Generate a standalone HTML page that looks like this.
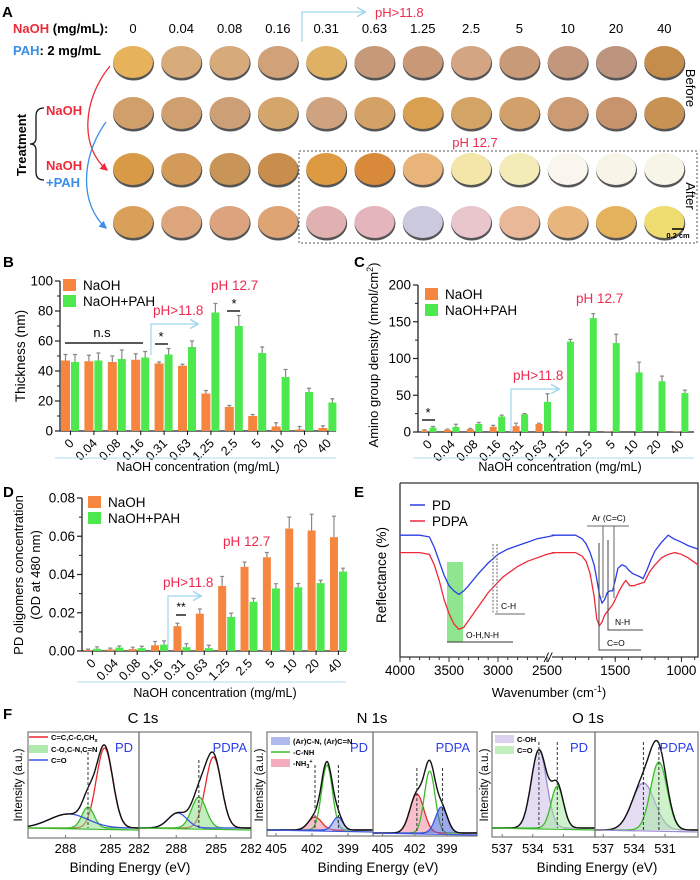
<!DOCTYPE html>
<html><head><meta charset="utf-8"><style>
html,body{margin:0;padding:0;background:#fff;}
svg{display:block;font-family:"Liberation Sans",Arial,sans-serif;}
</style></head><body>
<svg id="fig" width="700" height="880" viewBox="0 0 700 880" xmlns="http://www.w3.org/2000/svg">
<defs>
<marker id="ahR" markerWidth="6" markerHeight="6" refX="5" refY="3" orient="auto"><path d="M0,0 L6,3 L0,6 z" fill="#ee2a3a"/></marker>
<marker id="ahB" markerWidth="6" markerHeight="6" refX="5" refY="3" orient="auto"><path d="M0,0 L6,3 L0,6 z" fill="#3a8ee8"/></marker>
<marker id="ahC" markerWidth="8" markerHeight="8" refX="6" refY="4" orient="auto"><path d="M0,0 L7,4 L0,8" fill="none" stroke="#9fd6ef" stroke-width="1.2"/></marker>
</defs>
<g>
<text x="2" y="17" font-size="15" font-weight="bold">A</text>
<text x="13" y="33" font-size="13" font-weight="bold"><tspan fill="#ee2a3a">NaOH</tspan> (mg/mL):</text>
<text x="13" y="55" font-size="13" font-weight="bold"><tspan fill="#3a8ee8">PAH</tspan>: 2 mg/mL</text>
<path d="M302,42 L302,12 L364,12" fill="none" stroke="#9fd6ef" stroke-width="1.2" marker-end="url(#ahC)"/>
<text x="375" y="17" font-size="13" fill="#ee2a4f">pH&gt;11.8</text>
<text x="475" y="147" font-size="13" fill="#ee2a4f" text-anchor="middle">pH 12.7</text>
<rect x="299" y="151" width="398" height="92" fill="none" stroke="#555" stroke-dasharray="2,2"/>
<text transform="translate(26,145) rotate(-90)" font-size="13" font-weight="bold" text-anchor="middle">Treatment</text>
<path d="M44,108 Q36,108 36,116 L36,138 Q36,144 30,144 Q36,144 36,150 L36,172 Q36,180 44,180" fill="none" stroke="#111" stroke-width="1.3"/>
<text x="46" y="115" font-size="13" font-weight="bold" fill="#ee2a3a">NaOH</text>
<text x="46" y="170" font-size="13" font-weight="bold" fill="#ee2a3a">NaOH</text>
<text x="46" y="187" font-size="13" font-weight="bold" fill="#3a8ee8">+PAH</text>
<path d="M110,66 C82,100 80,148 107,170" fill="none" stroke="#ee2a3a" stroke-width="1.3" marker-end="url(#ahR)"/>
<path d="M106,122 C80,158 80,205 106,228" fill="none" stroke="#3a8ee8" stroke-width="1.3" marker-end="url(#ahB)"/>
<text transform="translate(686,88) rotate(90)" font-size="13" text-anchor="middle">Before</text>
<text transform="translate(686,196) rotate(90)" font-size="13" text-anchor="middle">After</text>
<g id="discs"></g>
<line x1="672" y1="229" x2="684" y2="229" stroke="#000" stroke-width="1.5"/>
<text x="678" y="238" font-size="7.5" font-weight="bold" text-anchor="middle">0.2 cm</text>
</g>
<g id="charts"></g>
</svg>
<script>
const svg=document.getElementById('fig');
const NS='http://www.w3.org/2000/svg';
function mk(tag,attrs,parent){const e=document.createElementNS(NS,tag);for(const k in attrs)e.setAttribute(k,attrs[k]);(parent||svg).appendChild(e);return e;}
function tx(str,attrs,parent){const e=mk('text',attrs,parent);e.textContent=str;return e;}

/* ---------- Panel A data ---------- */
const concLabels=['0','0.04','0.08','0.16','0.31','0.63','1.25','2.5','5','10','20','40'];
const discRow1=['#e7b35a','#d8ab7a','#d7aa7c','#d1a27a','#dfb165','#c69a78','#c99877','#d3a583','#c99a77','#c3977c','#bd947e','#c48d4c'];
const discRow2=['#d1a06a','#cf9f6f','#cd9f77','#d5a66c','#cfa37f','#d4a266','#d8a050','#d4a466','#d2a06a','#cc9a73','#c7946e','#c79254'];
const discRow3=['#d99a48','#d39a5a','#c99457','#c98d4e','#de9a40','#d9893a','#e8b47a','#f3e6a8','#f4ecb8','#faf6ee','#f8f4e8','#f7f4e8'];
const discRow4=['#d8a058','#dca57c','#dba47e','#dea474','#e1b0b0','#e4b5bd','#cbc9de','#e8c6cc','#e8b898','#e8b57c','#e4b25c','#eedc70'];
const discRowsY=[62,113,169,222];
const discs=document.getElementById('discs');
[discRow1,discRow2,discRow3,discRow4].forEach((row,ri)=>{
  row.forEach((c,i)=>{
    const cx=133+i*48.3, cy=discRowsY[ri];
    const sh=mk('ellipse',{cx:cx+0.5,cy:cy+1.5,rx:20.5,ry:17,fill:'#555'},discs);
    
    
    const d=mk('ellipse',{cx:cx,cy:cy,rx:20,ry:16,fill:c},discs);
    
    
  });
});
concLabels.forEach((l,i)=>{
  const t=tx(l,{x:133+i*48.3,y:33,'font-size':13,'text-anchor':'middle'});
  
  
});

/* ---------- Bar chart data ---------- */
const bNaOH=[47,46.5,46,47.5,45,43.5,25,16,10,3,1,2];
const bNaOHErr=[4,4,4,4,1,1,2,1,1,2.5,2,1.5];
const bPAH=[46,47,48,49,51,56,79,70,52,36,26,19];
const bPAHErr=[5,5,6,4,4,4,6,7,4,5,2.5,2.5];
const bTicks=[0,20,40,60,80,100];

const cNaOH=[2,3,4,7,8,11,1,0,0.5,0,0,0.5];
const cNaOHErr=[1,1,1,2,4,1,0,0,0,0,0,0];
const cPAH=[6,7,11,21,24,41,123,155,121,81,69,53];
const cPAHErr=[1.5,3.5,2,2,1,11,3,6,12,14,7,4];
const cTicks=[0,50,100,150,200];

const dNaOH=[0.0005,0.0008,0.001,0.003,0.013,0.0195,0.034,0.044,0.049,0.064,0.063,0.0595];
const dNaOHErr=[0.0005,0.0007,0.001,0.002,0.0015,0.0025,0.005,0.0025,0.0025,0.006,0.0085,0.011];
const dPAH=[0.0012,0.0018,0.0015,0.0033,0.002,0.0015,0.0178,0.0257,0.0327,0.0333,0.0355,0.0415];
const dPAHErr=[0.001,0.0008,0.001,0.002,0.0018,0.0015,0.002,0.0018,0.0025,0.002,0.0015,0.0018];
const dTicks=[0,0.02,0.04,0.06,0.08];

const ORANGE='#f5853f', GREEN='#4de84d', RED='#ee2a4f';

function barChart(c){
  const g=mk('g',{});
  
  
  const yMax=c.ticks[c.ticks.length-1];
  const Y=v=>c.yBase - v/yMax*(c.yBase-c.yTop);
  const gx=i=>c.x0+i*c.step;
  const ya=mk('line',{x1:c.axL,y1:c.yBase,x2:c.axL,y2:c.yTop,stroke:'#222','stroke-width':1.3},g);
  
  
  const xa=mk('line',{x1:c.axL,y1:c.yBase,x2:c.axR,y2:c.yBase,stroke:'#222','stroke-width':1.3},g);
  
  
  c.ticks.forEach((t,k)=>{
    const y=Y(t);
    mk('line',{x1:c.axL-5,y1:y,x2:c.axL,y2:y,stroke:'#222','stroke-width':1.2},g);
    if(k<c.ticks.length-1){const ym=Y((t+c.ticks[k+1])/2);mk('line',{x1:c.axL-3,y1:ym,x2:c.axL,y2:ym,stroke:'#222','stroke-width':1},g);}
    const lab=tx(c.fmt(t),{x:c.axL-7,y:y+4.5,'font-size':13.5,'text-anchor':'end'},g);
    
    
  });
  concLabels.forEach((l,i)=>{
    const cx=gx(i)+c.ow+c.gap/2;
    mk('line',{x1:cx,y1:c.yBase,x2:cx,y2:c.yBase+4,stroke:'#222','stroke-width':1.1},g);
    const lab=tx(l,{x:cx+4,y:c.yBase+13,'font-size':12.5,'text-anchor':'end',transform:`rotate(-45 ${cx+4} ${c.yBase+13})`},g);
    
    
  });
  function bars(vals,errs,off,w,col,nm){
    vals.forEach((v,i)=>{
      const x=gx(i)+off, y=Y(v);
      const r=mk('rect',{x:x,y:y,width:w,height:Math.max(0,c.yBase-y),fill:col},g);
      
      
      if(errs[i]>0){
        const ye=Y(v+errs[i]);
        const e=mk('path',{d:`M${x+w/2},${y} L${x+w/2},${ye} M${x+w/2-2},${ye} L${x+w/2+2},${ye}`,stroke:'#888','stroke-width':1.2,fill:'none'},g);
        
        
      }
    });
  }
  bars(c.naoh,c.naohErr,0,c.ow,ORANGE,'bar-naoh');
  bars(c.pah,c.pahErr,c.ow+c.gap,c.gw,GREEN,'bar-naoh-pah');
  const l1=mk('rect',{x:c.legX,y:c.legY-7,width:13,height:12,fill:ORANGE},g);
  
  
  const t1=tx('NaOH',{x:c.legX+20,y:c.legY+4,'font-size':13.5},g);
  
  
  const l2=mk('rect',{x:c.legX,y:c.legY+9,width:13,height:12,fill:GREEN},g);
  
  
  const t2=tx('NaOH+PAH',{x:c.legX+20,y:c.legY+20,'font-size':13.5},g);
  
  
  const bl=mk('line',{x1:c.axL-5,y1:c.blueY,x2:c.axR,y2:c.blueY,stroke:'#bfe3f3','stroke-width':1.2},g);
  
  
  const xt=tx('NaOH concentration (mg/mL)',{x:c.xtX,y:c.xtY,'font-size':12.5,'text-anchor':'middle'},g);
  
  
  return {g,Y,gx};
}

tx('B',{x:3,y:267,'font-size':15,'font-weight':'bold'});
const B=barChart({name:'panel-b-thickness-chart',x0:61,step:23.4,ow:9,gap:1,gw:8,yBase:431,yTop:281,axL:60,axR:336,ticks:bTicks,fmt:t=>String(t),
  naoh:bNaOH,naohErr:bNaOHErr,pah:bPAH,pahErr:bPAHErr,legX:63,legY:286,blueY:458,xtX:198,xtY:471});
const byt=tx('Thickness (nm)',{transform:'translate(25,356) rotate(-90)','font-size':13.5,'text-anchor':'middle'});



tx('C',{x:354,y:267,'font-size':15,'font-weight':'bold'});
const C=barChart({name:'panel-c-amino-chart',x0:421,step:22.9,ow:7,gap:1.5,gw:7,yBase:432,yTop:285,axL:418,axR:694,ticks:cTicks,fmt:t=>String(t),
  naoh:cNaOH,naohErr:cNaOHErr,pah:cPAH,pahErr:cPAHErr,legX:425,legY:295,blueY:458,xtX:560,xtY:471});
const cyt=mk('text',{transform:'translate(378,355) rotate(-90)','font-size':13,'text-anchor':'middle'});
cyt.innerHTML='Amino group density (nmol/cm<tspan dy="-5" font-size="9">2</tspan><tspan dy="5">)</tspan>';



tx('D',{x:3,y:497,'font-size':15,'font-weight':'bold'});
const D=barChart({name:'panel-d-oligomer-chart',x0:84,step:22.36,ow:8,gap:1,gw:8,yBase:651,yTop:498,axL:82,axR:346,ticks:dTicks,fmt:t=>t.toFixed(2),
  naoh:dNaOH,naohErr:dNaOHErr,pah:dPAH,pahErr:dPAHErr,legX:88,legY:503,blueY:682,xtX:215,xtY:697});
const dyt=tx('PD oligomers concentration',{transform:'translate(23,575) rotate(-90)','font-size':13,'text-anchor':'middle'});


const dyt2=tx('(OD at 480 nm)',{transform:'translate(40,575) rotate(-90)','font-size':13,'text-anchor':'middle'});



function ann(str,x,y,nm,anchor){const t=tx(str,{x:x,y:y,'font-size':13.5,fill:RED,'text-anchor':anchor||'start'});return t;}
function ln(d,col,w,nm,mark){const p=mk('path',{d:d,stroke:col,'stroke-width':w,fill:'none'});if(mark)p.setAttribute('marker-end',mark);return p;}
ln('M65,343 L143,343','#222',1.5,'ns-bracket');
tx('n.s',{x:102,y:337,'font-size':13,'text-anchor':'middle'});
ln('M155,344 L168,344','#222',1.5,'sig-bracket-031');
tx('*',{x:161,y:341,'font-size':13,'text-anchor':'middle'});
ln('M227,311 L240,311','#222',1.5,'sig-bracket-25');
tx('*',{x:234,y:308,'font-size':13,'text-anchor':'middle'});
ln('M151,355 L151,324 L197,324','#9fd6ef',1.2,'ph-arrow-b','url(#ahC)');
ann('pH>11.8',153,315,'ph-11-8-label-b');
ann('pH 12.7',211,290,'ph-12-7-label-b');

ln('M422,420 L435,420','#222',1.5,'sig-bracket-c');
tx('*',{x:428,y:417,'font-size':13,'text-anchor':'middle'});
ln('M511,432 L511,389 L558,389','#9fd6ef',1.2,'ph-arrow-c','url(#ahC)');
ann('pH>11.8',513,380,'ph-11-8-label-c');
ann('pH 12.7',576,303,'ph-12-7-label-c');

ln('M168,648 L168,596 L200,596','#9fd6ef',1.2,'ph-arrow-d','url(#ahC)');
ann('pH>11.8',163,587,'ph-11-8-label-d');
ann('pH 12.7',223,546,'ph-12-7-label-d');
ln('M176,615 L186,615','#222',1.5,'sig-bracket-d');
tx('**',{x:181,y:611,'font-size':12,'text-anchor':'middle'});

/* ---------- Panel E: FTIR ---------- */
const ePDLeft=[[4000,70],[3900,70],[3800,70],[3700,69],[3650,63],[3600,55],[3550,47],[3500,41],[3450,38],[3400,36],[3350,38],[3300,41],[3200,48],[3100,54],[3000,59],[2900,62],[2800,64],[2700,66],[2600,68],[2500,69],[2420,70]];
const ePDRight=[[1980,70],[1900,70],[1850,70],[1800,70],[1750,68],[1720,65],[1690,60],[1660,53],[1640,45],[1620,36],[1600,31],[1580,33],[1560,37],[1540,38],[1520,38],[1500,44],[1480,51],[1450,53],[1420,52],[1400,50],[1370,48],[1340,47],[1310,46],[1290,45],[1260,50],[1230,56],[1200,61],[1150,66],[1100,70],[1060,68],[1000,66],[950,64],[875,62]];
const ePDPALeft=[[4000,60],[3900,60],[3800,60],[3700,59],[3650,53],[3600,44],[3550,33],[3500,25],[3450,19],[3400,16],[3350,17],[3300,21],[3200,29],[3100,37],[3000,43],[2950,46],[2900,48],[2800,52],[2700,55],[2600,57],[2500,59],[2420,60]];
const ePDPARight=[[1980,60],[1900,60],[1850,60],[1800,60],[1750,58],[1720,55],[1690,48],[1660,35],[1640,22],[1620,18],[1600,20],[1580,24],[1550,27],[1520,30],[1500,33],[1470,38],[1440,42],[1420,44],[1390,41],[1360,41],[1320,42],[1280,43],[1240,49],[1200,53],[1150,57],[1100,59],[1050,60],[1000,59],[950,57],[875,53]];
const eTicksLeft=[4000,3500,3000,2500];
const eTicksRight=[1500,1000];
(function(){
  const g=mk('g',{});
  
  
  tx('E',{x:354,y:497,'font-size':15,'font-weight':'bold'});
  const top=483,bot=657,L=400,R=698;
  const XL=w=>L+(4000-w)*0.098;
  const XR=w=>602+(1600-w)*0.1324;
  const Y=v=>bot-v*1.74;
  const box=mk('path',{d:`M${L},${top} L${R},${top} L${R},${bot} L552,${bot} M545,${bot} L${L},${bot} L${L},${top}`,fill:'none',stroke:'#333','stroke-width':1.3},g);
  
  
  const br=tx('//',{x:548,y:662,'font-size':13,'text-anchor':'middle','font-style':'italic'},g);
  
  
  const band=mk('rect',{x:447,y:562,width:16,height:80,fill:'#7de27a',opacity:0.85},g);
  
  
  function curve(pts,X,col,nm){
    const d=pts.map((p,i)=>(i?'L':'M')+X(p[0]).toFixed(1)+','+Y(p[1]).toFixed(1)).join(' ');
    const p=mk('path',{d:d,fill:'none',stroke:col,'stroke-width':1.3},g);
    
    
  }
  curve(ePDLeft,XL,'#2a3ee8','pd-curve-left');
  curve(ePDRight,XR,'#2a3ee8','pd-curve-right');
  curve(ePDPALeft,XL,'#ee2a3a','pdpa-curve-left');
  curve(ePDPARight,XR,'#ee2a3a','pdpa-curve-right');
  eTicksLeft.forEach(t=>{const x=XL(t);mk('line',{x1:x,y1:bot,x2:x,y2:bot+5,stroke:'#333'},g);
    const l=tx(String(t),{x:x,y:bot+18,'font-size':13.5,'text-anchor':'middle'},g);});
  eTicksRight.forEach(t=>{const x=XR(t);mk('line',{x1:x,y1:bot,x2:x,y2:bot+5,stroke:'#333'},g);
    const l=tx(String(t),{x:x,y:bot+18,'font-size':13.5,'text-anchor':'middle'},g);});
  for(let w=3900;w>=2500;w-=100){const x=XL(w);mk('line',{x1:x,y1:bot,x2:x,y2:bot+3,stroke:'#333'},g);}
  for(let w=1900;w>=900;w-=100){const x=XR(w);mk('line',{x1:x,y1:bot,x2:x,y2:bot+3,stroke:'#333'},g);}
  const yt=tx('Reflectance (%)',{transform:'translate(386,575) rotate(-90)','font-size':13.5,'text-anchor':'middle'},g);
  
  
  const xt=mk('text',{x:549,y:697,'font-size':13,'text-anchor':'middle'},g);
  xt.innerHTML='Wavenumber (cm<tspan dy="-5" font-size="9">-1</tspan><tspan dy="5">)</tspan>';
  
  
  mk('line',{x1:410,y1:505,x2:425,y2:505,stroke:'#2a3ee8','stroke-width':1.5},g);
  tx('PD',{x:432,y:510,'font-size':13.5},g);
  mk('line',{x1:410,y1:521,x2:425,y2:521,stroke:'#ee2a3a','stroke-width':1.5},g);
  tx('PDPA',{x:432,y:526,'font-size':13.5},g);
  const gr='#666';
  mk('path',{d:'M447,642 L513,642',stroke:'#333','stroke-width':1,fill:'none'},g);
  tx('O-H,N-H',{x:466,y:638,'font-size':8.5},g);
  mk('path',{d:'M493,544 L493,614 M497,544 L497,614',stroke:gr,'stroke-width':1,'stroke-dasharray':'2,1.5',fill:'none'},g);
  mk('path',{d:'M495,614 L525,614',stroke:gr,'stroke-width':1,fill:'none'},g);
  tx('C-H',{x:501,y:609,'font-size':8.5},g);
  mk('path',{d:'M587,526 L629,526 M603,526 L603,598 M614,526 L614,598',stroke:gr,'stroke-width':1,fill:'none'},g);
  tx('Ar (C=C)',{x:592,y:521,'font-size':8.5},g);
  mk('path',{d:'M599,543 L599,650 L641,650',stroke:'#444','stroke-width':1,fill:'none'},g);
  tx('C=O',{x:607,y:646,'font-size':8.5},g);
  mk('path',{d:'M608,540 L608,630 L643,630',stroke:'#444','stroke-width':1,fill:'none'},g);
  tx('N-H',{x:615,y:625,'font-size':8.5},g);
})();

/* ---------- Panel F: XPS ---------- */
const fC1Peaks=[[285.4,80,0.55],[286.5,21,0.4],[287.8,14,1.3]];
const fC2Peaks=[[285.2,71,0.6],[286.3,31,0.55],[287.9,15,0.7]];
const fN1Peaks=[[401.75,13,0.55],[400.75,65,0.45],[399.85,13,0.4]];
const fN2Peaks=[[401.8,39,0.65],[400.6,62,0.5],[399.5,26,0.55]];
const fO1Peaks=[[533.4,78,0.75],[531.6,42,0.6]];
const fO2Peaks=[[533.1,47,1.1],[531.6,68,0.8]];
const fC1Ticks=[288,285,282], fNTicks=[405,402,399], fOTicks=[537,534,531];
tx('F',{x:3,y:719,'font-size':15,'font-weight':'bold'});
function xps(p){
  const g=mk('g',{});
  
  
  const X=e=>p.L+(p.eL-e)*p.k;
  const Y=v=>p.base-v;
  const fr=mk('rect',{x:p.L,y:732,width:p.R-p.L,height:p.bot-732,fill:'none',stroke:'#777','stroke-width':1.2},g);
  
  
  const eR=p.eL-(p.R-p.L)/p.k;
  const N=120, es=[];
  for(let i=0;i<=N;i++)es.push(p.eL-(p.eL-eR)*i/N);
  const gauss=(pk,e)=>pk[1]*Math.exp(-((e-pk[0])**2)/(2*pk[2]*pk[2]));
  p.peaks.forEach((pk,j)=>{
    const pts=es.map(e=>X(e).toFixed(1)+','+Y(gauss(pk,e)).toFixed(1));
    const d='M'+pts.join(' L');
    if(p.fills[j]){const f=mk('path',{d:d+` L${p.R},${p.base} L${p.L},${p.base} Z`,fill:p.fills[j],opacity:0.55,stroke:'none'},g);
      
      }
    const c=mk('path',{d:d,fill:'none',stroke:p.cols[j],'stroke-width':1.3},g);
    
    
  });
  const env=es.map(e=>X(e).toFixed(1)+','+Y(p.peaks.reduce((s,pk)=>s+gauss(pk,e),0)).toFixed(1));
  const en=mk('path',{d:'M'+env.join(' L'),fill:'none',stroke:'#111','stroke-width':1.4},g);
  
  
  mk('line',{x1:p.L,y1:p.base,x2:p.R,y2:p.base+2,stroke:p.baseCol,'stroke-width':1.3},g);
  p.dash.forEach(e=>{const dl=mk('line',{x1:X(e),y1:p.dashTop,x2:X(e),y2:p.base,stroke:'#333','stroke-width':1,'stroke-dasharray':'3,2'},g);
    });
  p.ticks.forEach(t=>{let x=X(t);if(x>p.R)x=p.R;if(x<p.L-2)return;
    mk('line',{x1:x,y1:p.bot,x2:x,y2:p.bot-3,stroke:'#777'},g);
    const l=tx(String(t),{x:x,y:853,'font-size':13,'text-anchor':'middle'},g);
    });
  const lb=tx(p.label,{x:p.labX,y:752,'font-size':13,fill:'#2a3ee8','text-anchor':'end'},g);
  
  
}
const cCols=['#e8282e','#3cbb2c','#3a55e0'];
xps({name:'xps-c1s-pd',L:28,R:139,bot:838,base:828,eL:290.5,k:15,peaks:fC1Peaks,cols:cCols,fills:[null,'#8fe08a',null],baseCol:'#3cbb2c',dash:[286.5],dashTop:752,ticks:fC1Ticks,label:'PD',labX:133});
xps({name:'xps-c1s-pdpa',L:139,R:251,bot:838,base:828,eL:290.8,k:13.3,peaks:fC2Peaks,cols:cCols,fills:[null,'#8fe08a',null],baseCol:'#3cbb2c',dash:[286.3],dashTop:760,ticks:fC1Ticks,label:'PDPA',labX:247});
const nCols=['#e8282e','#3cbb2c','#3a55e0'];
xps({name:'xps-n1s-pd',L:267,R:373,bot:836,base:830,eL:405.75,k:12,peaks:fN1Peaks,cols:nCols,fills:['#f08aa0',null,'#8f9de8'],baseCol:'#3a55e0',dash:[401.75,399.8],dashTop:765,ticks:fNTicks,label:'PD',labX:368});
xps({name:'xps-n1s-pdpa',L:373,R:477,bot:836,base:833,eL:405.9,k:10.7,peaks:fN2Peaks,cols:nCols,fills:['#f08aa0',null,'#4a63d8'],baseCol:'#3a55e0',dash:[401.8,399.4],dashTop:768,ticks:fNTicks,label:'PDPA',labX:470});
const oCols=['#9d8cd0','#3cbb2c'];
xps({name:'xps-o1s-pd',L:492,R:595,bot:837,base:828,eL:538,k:10.2,peaks:fO1Peaks,cols:oCols,fills:['#cdbfea','#a8e6a0'],baseCol:'#3cbb2c',dash:[533.4,531.6],dashTop:742,ticks:fOTicks,label:'PD',labX:588});
xps({name:'xps-o1s-pdpa',L:595,R:698,bot:837,base:830,eL:537.8,k:10.3,peaks:fO2Peaks,cols:oCols,fills:['#cdbfea','#a8e6a0'],baseCol:'#9d8cd0',dash:[533.1,531.6],dashTop:742,ticks:fOTicks,label:'PDPA',labX:694});
[['C 1s',143],['N 1s',372],['O 1s',588]].forEach(a=>{const t=tx(a[0],{x:a[1],y:723,'font-size':15,'text-anchor':'middle'});});
[[130],[378],[597]].forEach(a=>{const t=tx('Binding Energy (eV)',{x:a[0],y:872,'font-size':13.5,'text-anchor':'middle'});});
[[22],[263],[488]].forEach(a=>{const t=tx('Intensity (a.u.)',{transform:`translate(${a[0]},785) rotate(-90)`,'font-size':11.5,'text-anchor':'middle'});});
function legItem(type,x,y,col,label,nm){
  if(type==='line'){mk('line',{x1:x,y1:y,x2:x+19,y2:y,stroke:col,'stroke-width':1.5});}
  else{mk('rect',{x:x,y:y-4,width:19,height:8,fill:col,opacity:0.7});}
  const t=tx('',{x:x+22,y:y+3,'font-size':7.5,'font-weight':'bold'});
  t.innerHTML=label;
  
  
}
legItem('line',29,737,'#e8282e','C=C,C-C,CH<tspan font-size="5.5" dy="2">x</tspan>','legend-c-cc');
legItem('rect',29,749,'#8fe08a','C-O,C-N,C=N','legend-c-co');
legItem('line',29,760,'#3a55e0','C=O','legend-c-co-double');
legItem('rect',271,741,'#8f9de8','(Ar)C-N, (Ar)C=N','legend-n-arcn');
legItem('line',271,752,'#3cbb2c','-C-NH','legend-n-cnh');
legItem('rect',271,763,'#f08aa0','-NH<tspan font-size="5.5" dy="2">3</tspan><tspan font-size="5.5" dy="-5">+</tspan>','legend-n-nh3');
legItem('rect',495,739,'#cdbfea','C-OH','legend-o-coh');
legItem('rect',495,750,'#a8e6a0','C=O','legend-o-co');
</script>
</body></html>
